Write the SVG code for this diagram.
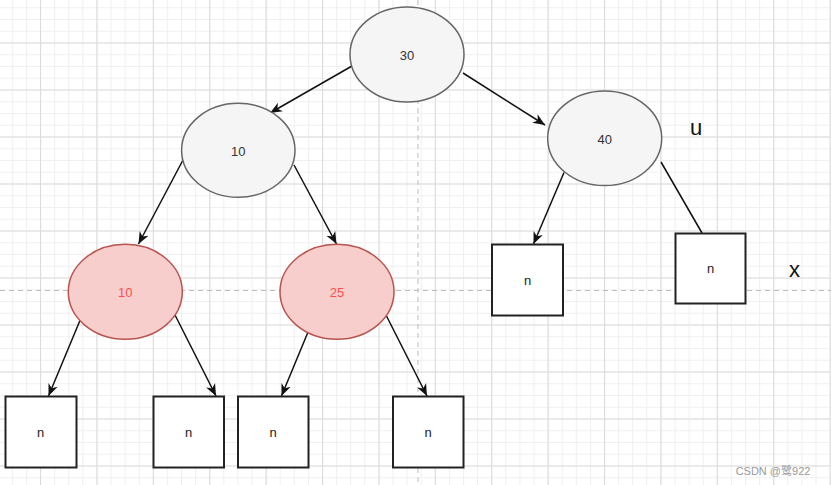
<svg xmlns="http://www.w3.org/2000/svg" width="831" height="485" viewBox="0 0 831 485">
<style>
.g ellipse{fill:#f5f5f5;stroke:#666;stroke-width:1.5}
.r ellipse{fill:#f8cecc;stroke:#b85450;stroke-width:1.5}
.g text{fill:#333}
.r text{fill:#ff4d4d}
.s rect{fill:#fff;stroke:#222;stroke-width:2}
.s text{fill:#222}
text{font-family:"Liberation Sans",Arial,sans-serif;font-size:13px;text-anchor:middle;dominant-baseline:central}
.lab{font-size:22px;fill:#111}
#edges line{stroke:#111;stroke-width:1.5}
.guide{stroke:#bdbdbd;stroke-width:1;stroke-dasharray:5 4}
</style>
<defs>
<pattern id="minor" patternUnits="userSpaceOnUse" x="40" y="42.5" width="14.1" height="11.75">
<path d="M0.5,0 V11.75 M0,0.5 H14.1" fill="none" stroke="#f0f0f0" stroke-width="1.2"/>
</pattern>
<pattern id="major" patternUnits="userSpaceOnUse" x="40" y="42.5" width="56.4" height="47">
<path d="M0.5,0 V47 M0,0.5 H56.4" fill="none" stroke="#dcdcdc" stroke-width="1.2"/>
</pattern>
<marker id="ah" markerUnits="userSpaceOnUse" markerWidth="14" markerHeight="12" refX="12" refY="6" orient="auto">
<path d="M0,1 L12,6 L0,11 L3.5,6 Z" fill="#111"/>
</marker>
</defs>
<rect width="831" height="485" fill="#fff"/>
<rect width="831" height="485" fill="url(#minor)"/>
<rect width="831" height="485" fill="url(#major)"/>
<line class="guide" x1="0" y1="290.5" x2="831" y2="290.5"/>
<line class="guide" x1="418" y1="0" x2="418" y2="485"/>

<g id="edges">
<line x1="352" y1="66" x2="270" y2="113" marker-end="url(#ah)"/>
<line x1="463" y1="73" x2="545" y2="125" marker-end="url(#ah)"/>
<line x1="183" y1="160" x2="138.5" y2="244" marker-end="url(#ah)"/>
<line x1="294" y1="165" x2="336.5" y2="244" marker-end="url(#ah)"/>
<line x1="564" y1="172.5" x2="533.5" y2="244" marker-end="url(#ah)"/>
<line x1="661" y1="162" x2="702" y2="233"/>
<line x1="81" y1="318" x2="48.5" y2="396" marker-end="url(#ah)"/>
<line x1="175" y1="315" x2="216" y2="396" marker-end="url(#ah)"/>
<line x1="313" y1="320" x2="281.5" y2="396" marker-end="url(#ah)"/>
<line x1="386.5" y1="316" x2="427" y2="396" marker-end="url(#ah)"/>
</g>

<g id="n30" class="g"><ellipse cx="407" cy="54.5" rx="57" ry="47.5"/><text x="407" y="55">30</text></g>
<g id="n10" class="g"><ellipse cx="238.3" cy="150.3" rx="56.7" ry="47"/><text x="238.3" y="151">10</text></g>
<g id="n40" class="g"><ellipse cx="604.7" cy="138.3" rx="57" ry="47.3"/><text x="604.7" y="139">40</text></g>
<g id="n10r" class="r"><ellipse cx="125.3" cy="291.8" rx="57" ry="47.5"/><text x="125.3" y="292.5">10</text></g>
<g id="n25" class="r"><ellipse cx="337" cy="291.8" rx="57" ry="47.5"/><text x="337" y="292.5">25</text></g>

<g id="s1" class="s"><rect x="492" y="244.5" width="71" height="71"/><text x="527.5" y="280">n</text></g>
<g id="s2" class="s"><rect x="675.5" y="233.5" width="70" height="70"/><text x="710.5" y="268.5">n</text></g>
<g id="s3" class="s"><rect x="5.5" y="396.5" width="71" height="71"/><text x="40.5" y="432">n</text></g>
<g id="s4" class="s"><rect x="153.5" y="396.5" width="70.5" height="71"/><text x="188.5" y="432">n</text></g>
<g id="s5" class="s"><rect x="238" y="396.5" width="70.5" height="71"/><text x="273" y="432">n</text></g>
<g id="s6" class="s"><rect x="393" y="396.5" width="70.5" height="71"/><text x="428" y="432">n</text></g>

<text class="lab" x="696" y="127">u</text>
<text class="lab" x="794.5" y="269">x</text>
<text x="773" y="471" style="font-family:'Liberation Sans','Noto Sans CJK SC',sans-serif;font-size:11px;fill:#999">CSDN @鹭922</text>
</svg>
